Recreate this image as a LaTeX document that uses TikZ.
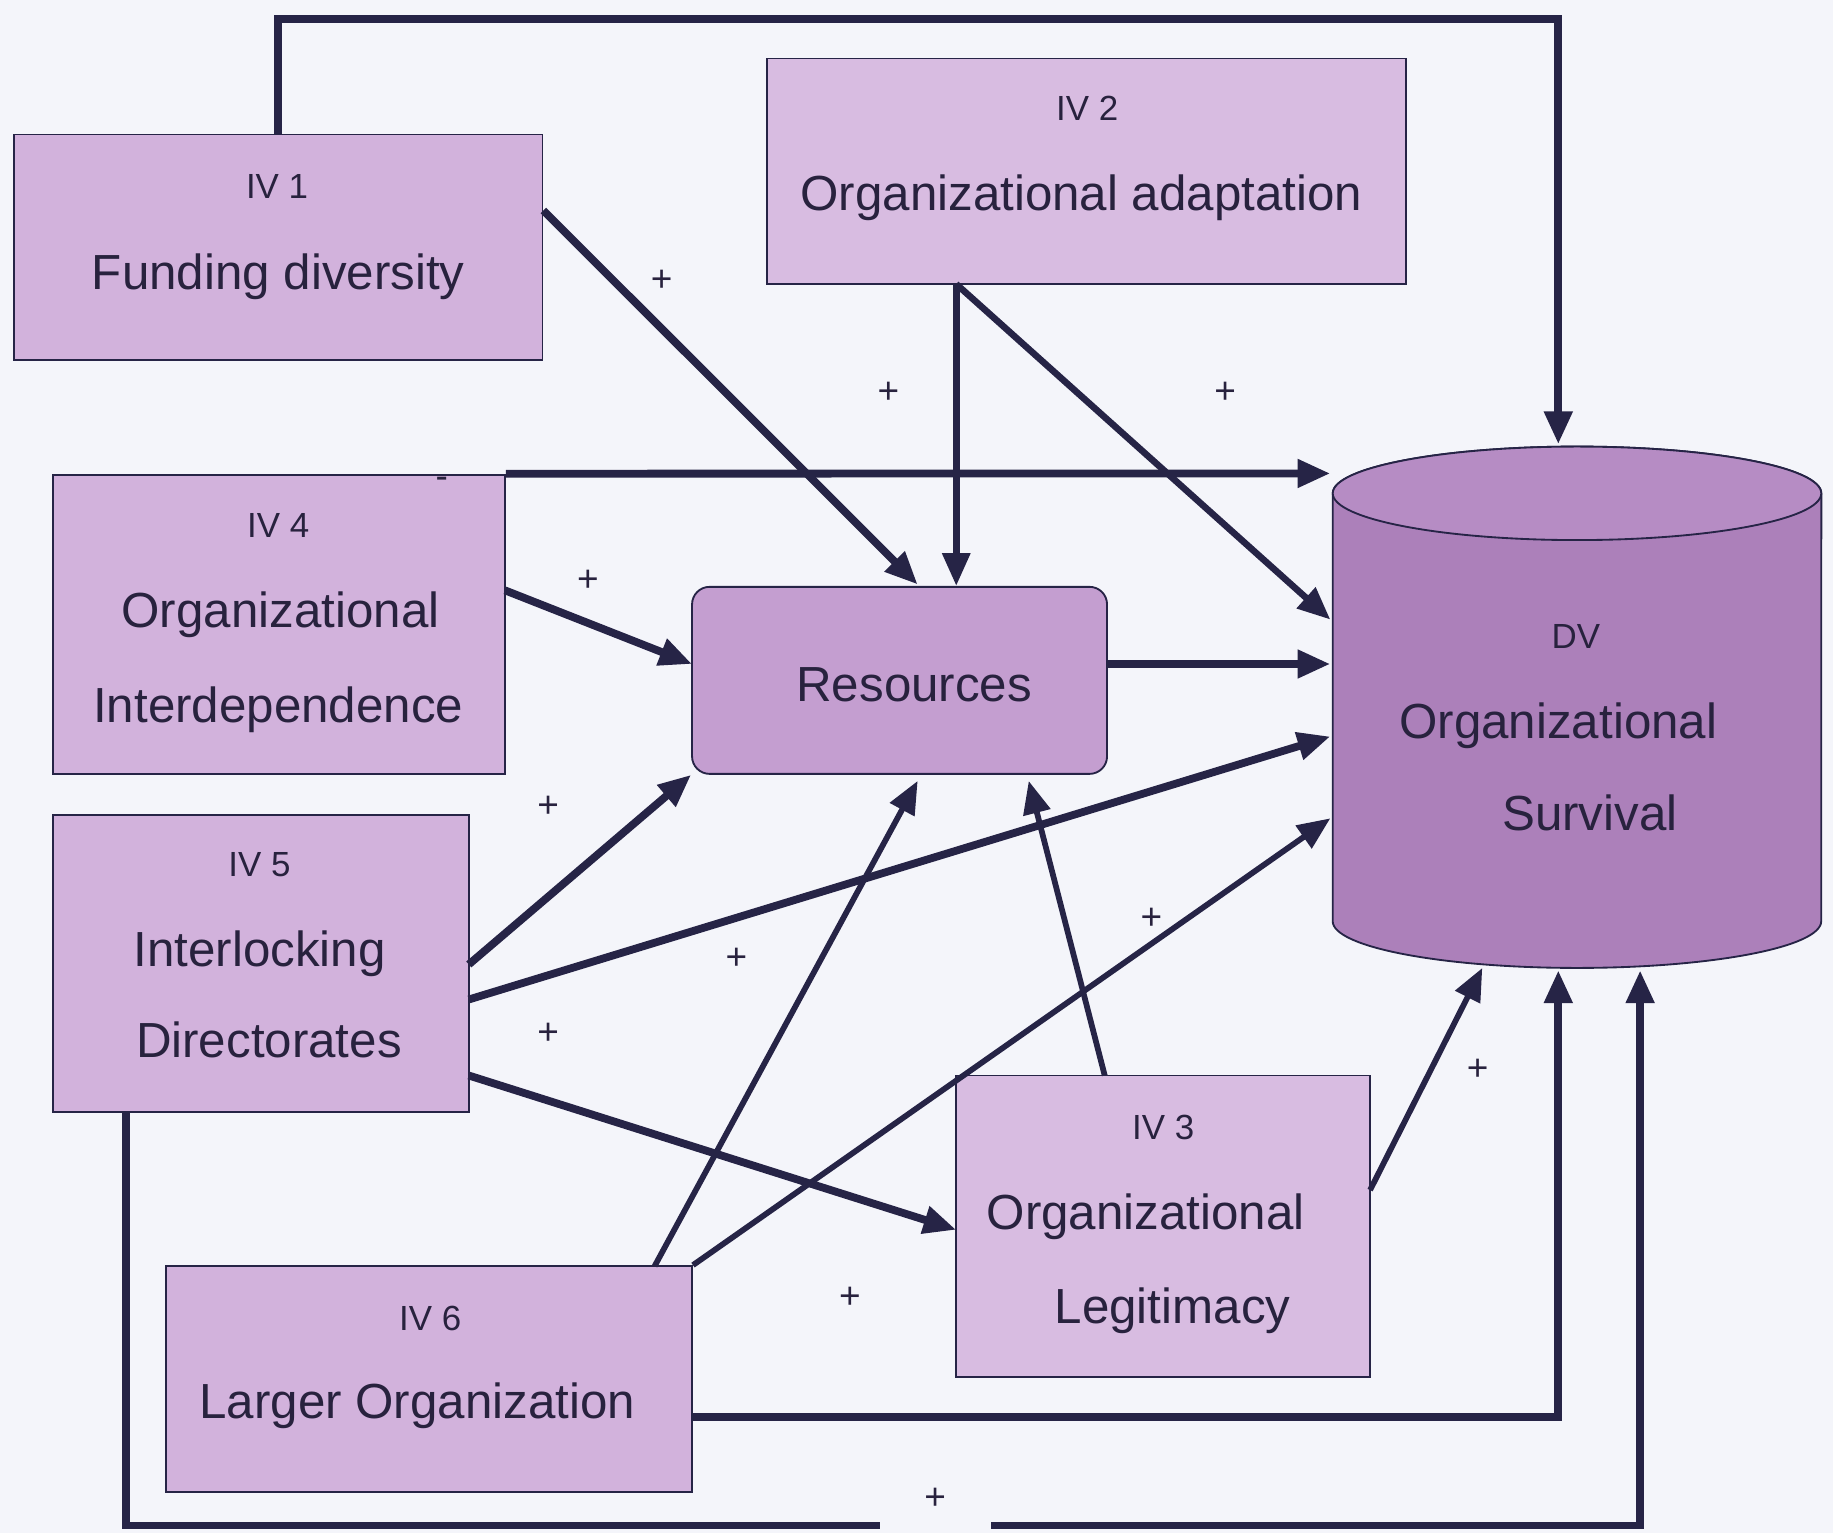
\documentclass[tikz,border=0pt]{standalone}
\usepackage{fontspec}
\setmainfont{Liberation Sans}
\usetikzlibrary{arrows.meta,fit}

\definecolor{bgcol}{RGB}{244,245,250}
\definecolor{ink}{RGB}{38,36,70}
\definecolor{ivfill}{RGB}{210,178,220}
\definecolor{ivlight}{RGB}{216,188,225}
\definecolor{resfill}{RGB}{196,158,208}
\definecolor{dvbody}{RGB}{172,128,186}
\definecolor{dvend}{RGB}{182,140,196}
\definecolor{txt}{RGB}{40,34,62}

\begin{document}
\begin{tikzpicture}[x=0.02cm, y=-0.02cm,
        ivbox/.style={draw=ink, line width=0.9pt, fill=ivfill, inner sep=0pt},
        ivlite/.style={ivbox, fill=ivlight},
        resbox/.style={ivbox, fill=resfill, rounded corners=0.3cm},
        ivtag/.style={text=txt, font=\fontsize{17}{20}\selectfont, inner sep=0pt, anchor=base},
        ivtext/.style={text=txt, font=\fontsize{24}{28}\selectfont, inner sep=0pt, anchor=base},
        sign/.style={text=txt, font=\fontsize{18}{20}\selectfont, inner sep=1pt},
        conn/.style={draw=ink, line width=3.8pt, -{Triangle[length=0.56cm,width=0.46cm]}},
        thinconn/.style={conn, line width=2.8pt}
    ]

    \useasboundingbox[fill=bgcol] (0,0) rectangle (1568,1311);

    % independent variables
    \node[ivbox, fit={(12,115)(464,308)}] (iv1) {};
    \node[ivlite, fit={(656,50)(1203,243)}] (iv2) {};
    \node[ivbox, fit={(45,406)(432,662)}] (iv4) {};
    \node[ivbox, fit={(45,697)(401,951)}] (iv5) {};
    \node[ivbox, fit={(142,1083)(592,1276)}] (iv6) {};
    \node[ivlite, fit={(818,920)(1172,1178)}] (iv3) {};
    \node[resbox, fit={(592,502)(947,662)}] (res) {};

    % dependent variable (cylinder)
    \fill[dvbody, draw=ink, line width=0.9pt] (1140,422) -- (1140,788)
        arc[start angle=180, end angle=360, x radius=4.18cm, y radius=0.8cm]
        -- (1558,422)
        arc[start angle=0, end angle=180, x radius=4.18cm, y radius=0.8cm] -- cycle;
    \draw[ink, fill=dvend, line width=0.9pt] (1349,422) ellipse[x radius=4.18cm, y radius=0.8cm];
    \node[fit={(1140,382)(1558,828)}, inner sep=0pt] (dv) {};

    % texts
    \node[ivtag] (iv1a) at (237,170) {IV 1};
    \node[ivtext] (iv1b) at (238,248) {Funding diversity};
    \node[ivtag] (iv2a) at (930,103) {IV 2};
    \node[ivtext] (iv2b) at (925,180) {Organizational adaptation};
    \node[ivtag] (iv4a) at (238,460) {IV 4};
    \node[ivtext] (iv4b) at (240,537) {Organizational};
    \node[ivtext] (iv4c) at (238,618) {Interdependence};
    \node[ivtag] (iv5a) at (222,750) {IV 5};
    \node[ivtext] (iv5b) at (222,827) {Interlocking};
    \node[ivtext] (iv5c) at (230,905) {Directorates};
    \node[ivtag] (iv6a) at (368,1138) {IV 6};
    \node[ivtext] (iv6b) at (357,1213) {Larger Organization};
    \node[ivtag] (iv3a) at (995,975) {IV 3};
    \node[ivtext] (iv3b) at (980,1052) {Organizational};
    \node[ivtext] (iv3c) at (1003,1132) {Legitimacy};
    \node[ivtext] (resa) at (782,600) {Resources};
    \node[ivtag] (dva) at (1348,555) {DV};
    \node[ivtext] (dvb) at (1333,632) {Organizational};
    \node[ivtext] (dvc) at (1360,710) {Survival};

    % connector end points
    \coordinate (iv2-s) at (818,243);
    \coordinate (iv4-e) at (432,505);
    \coordinate (iv5-e1) at (401,825);
    \coordinate (iv5-e2) at (401,855);
    \coordinate (iv5-e3) at (401,920);
    \coordinate (iv5-s) at (108,951);
    \coordinate (iv6-n) at (560,1083);
    \coordinate (iv6-e) at (592,1212);
    \coordinate (iv3-n) at (945,920);
    \coordinate (iv3-e) at (1172,1018);
    \coordinate (iv3-w) at (818,1052);
    \coordinate (res-n1) at (785,500);
    \coordinate (res-w) at (592,568);
    \coordinate (res-e) at (947,568);
    \coordinate (res-s1) at (785,668);
    \coordinate (res-s2) at (880,668);
    \coordinate (dv-top) at (1333,380);
    \coordinate (dv-w1) at (1138,405);
    \coordinate (dv-w2) at (1138,530);
    \coordinate (dv-w3) at (1138,568);
    \coordinate (dv-w4) at (1138,630);
    \coordinate (dv-w5) at (1138,700);
    \coordinate (dv-b1) at (1268,828);
    \coordinate (dv-b2) at (1333,830);
    \coordinate (dv-b3) at (1403,830);

    % connectors
    \draw[conn] (iv1.north) -- ++(0,-98) -| (dv-top);
    \draw[conn] (iv4.north east) -- (dv-w1);
    \draw[conn] ([yshift=0.63cm]iv1.east) -- (res-n1);
    \draw[conn, line width=3.2pt] (iv2-s) -- (iv2-s |- res.north);
    \draw[conn, line width=3.2pt] (iv2-s) -- (dv-w2);
    \draw[conn] (iv4-e) -- (res-w);
    \draw[conn] (res-e) -- (dv-w3);
    \draw[conn] (iv5-e1) -- (res.south west);
    \draw[conn] (iv5-e2) -- (dv-w4);
    \draw[conn] (iv5-e3) -- (iv3-w);
    \draw[thinconn] (iv6-n) -- (res-s1);
    \draw[thinconn] (iv6.north east) -- (dv-w5);
    \draw[thinconn] (iv3-n) -- (res-s2);
    \draw[thinconn] (iv3-e) -- (dv-b1);
    \draw[conn] (iv6-e) -| (dv-b2);
    \draw[conn] (iv5-s) -- ++(0,354) -| (dv-b3);

    % signs
    \node[sign] (s1) at (566,240) {+};
    \node[sign] (s2) at (760,336) {+};
    \node[sign] (s3) at (1048,336) {+};
    \node[sign] (s4) at (503,497) {+};
    \node[sign] (s5) at (469,690) {+};
    \node[sign] (s6) at (630,820) {+};
    \node[sign] (s7) at (469,884) {+};
    \node[sign] (s8) at (985,786) {+};
    \node[sign] (s9) at (1264,915) {+};
    \node[sign] (s10) at (727,1110) {+};
    \node[sign, fill=bgcol, minimum width=1.9cm, minimum height=1.16cm] (s11) at (800,1282) {+};
    \node[sign] (s12) at (378,413) {-};

\end{tikzpicture}
\end{document}
